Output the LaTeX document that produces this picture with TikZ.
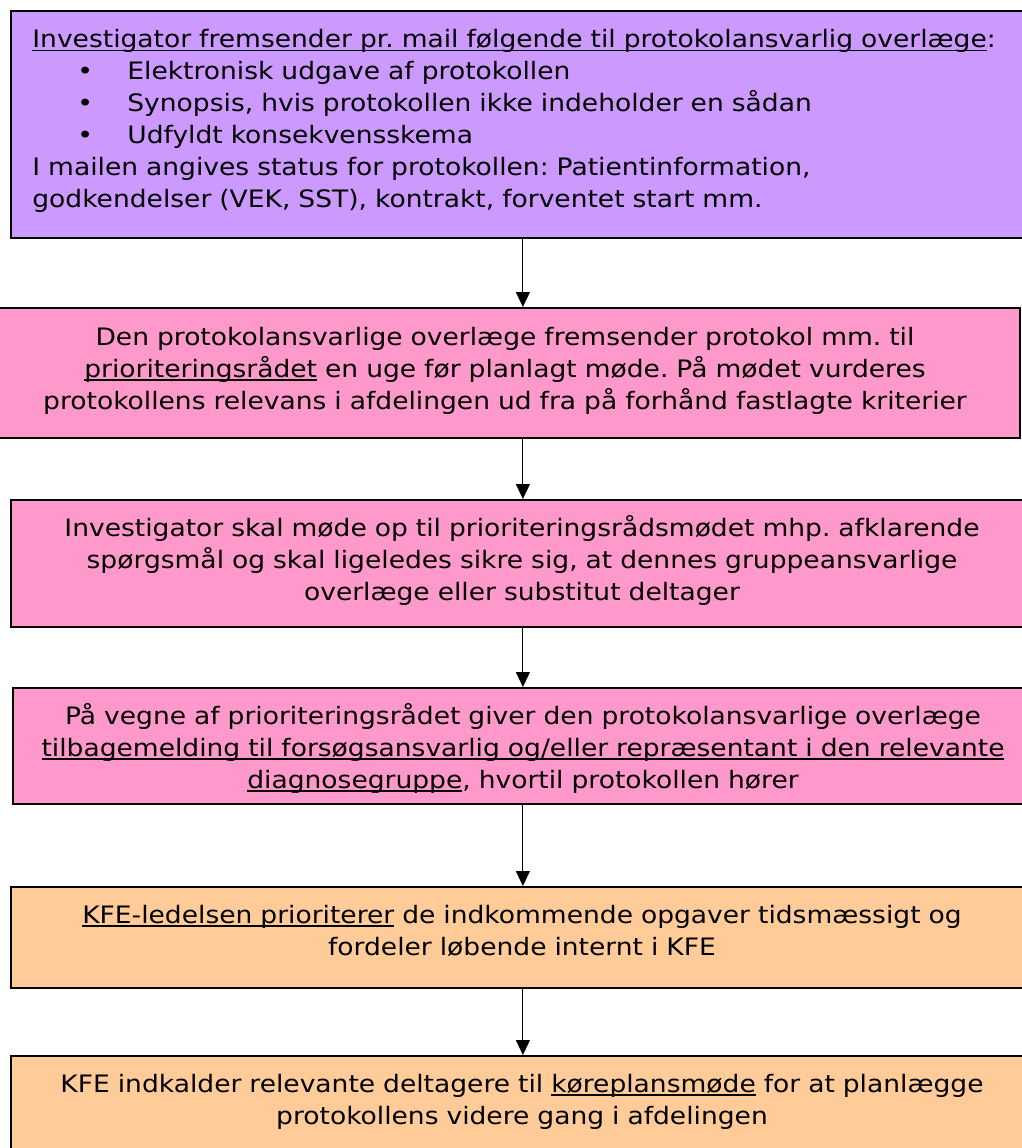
\documentclass[tikz,border=0pt]{standalone}
\usepackage{fontspec}
\setmainfont{DejaVu Sans}[FakeStretch=1.105]
\usetikzlibrary{arrows.meta}
\definecolor{lilla}{HTML}{CC99FF}
\definecolor{lyserod}{HTML}{FF99CC}
\definecolor{fersken}{HTML}{FFCC99}
\newcommand{\ustreg}[1]{\leavevmode\setbox0\hbox{#1}\rlap{\rule[-1.8pt]{\wd0}{0.7pt}}\box0\relax}
\frenchspacing
\begin{document}
\begin{tikzpicture}[
    x=0.5pt, y=-0.5pt,
    every node/.style={font=\fontsize{12pt}{16pt}\selectfont},
    boks/.style={draw,line width=0.9pt,inner sep=0pt,anchor=north west},
    tekst/.style={inner sep=0pt,text width=540pt,align=center,anchor=base},
    pil/.style={line width=0.5pt,-{Triangle[length=7.5pt,width=7pt]}}]
    \useasboundingbox (0,0) rectangle (1022,1148);
    \clip (0,0) rectangle (1022,1148);

    % Kasserne.
    \node[boks,fill=lilla,minimum width=512pt,minimum height=113.5pt] (b1) at (10,10) {};
    \node[boks,fill=lyserod,minimum width=514.5pt,minimum height=65pt] (b2) at (-10,307) {};
    \node[boks,fill=lyserod,minimum width=512pt,minimum height=63.5pt] (b3) at (10,499) {};
    \node[boks,fill=lyserod,minimum width=511pt,minimum height=58pt] (b4) at (12,687) {};
    \node[boks,fill=fersken,minimum width=512pt,minimum height=50.5pt] (b5) at (10,886) {};
    \node[boks,fill=fersken,minimum width=512pt,minimum height=55pt] (b6) at (10,1055) {};

    % Teksterne.
    \node[inner sep=0pt,text width=500pt,align=left,anchor=base west] (t1) at (32,47.3) {%
        \ustreg{Investigator fremsender pr. mail følgende til protokolansvarlig overlæge}:\\
        \hspace*{22.5pt}\makebox[25pt][l]{•}Elektronisk udgave af protokollen\\
        \hspace*{22.5pt}\makebox[25pt][l]{•}Synopsis, hvis protokollen ikke indeholder en sådan\\
        \hspace*{22.5pt}\makebox[25pt][l]{•}Udfyldt konsekvensskema\\
        I mailen angives status for protokollen: Patientinformation,\\
        godkendelser (VEK, SST), kontrakt, forventet start mm.};
    \node[tekst] (t2) at (505,345) {%
        Den protokolansvarlige overlæge fremsender protokol mm. til\\
        \ustreg{prioriteringsrådet} en uge før planlagt møde. På mødet vurderes\\
        protokollens relevans i afdelingen ud fra på forhånd fastlagte kriterier};
    \node[tekst] (t3) at (522,536) {%
        Investigator skal møde op til prioriteringsrådsmødet mhp. afklarende\\
        spørgsmål og skal ligeledes sikre sig, at dennes gruppeansvarlige\\
        overlæge eller substitut deltager};
    \node[tekst] (t4) at (523,724) {%
        På vegne af prioriteringsrådet giver den protokolansvarlige overlæge\\
        \ustreg{tilbagemelding til forsøgsansvarlig og/eller repræsentant i den relevante}\\
        \ustreg{diagnosegruppe}, hvortil protokollen hører};
    \node[tekst] (t5) at (522,923) {%
        \ustreg{KFE-ledelsen prioriterer} de indkommende opgaver tidsmæssigt og\\
        fordeler løbende internt i KFE};
    \node[tekst] (t6) at (522,1092) {%
        KFE indkalder relevante deltagere til \ustreg{køreplansmøde} for at planlægge\\
        protokollens videre gang i afdelingen};

    % Pilene.
    \draw[pil] (b1.south) -- (b1.south |- b2.north);
    \draw[pil] (b3.north |- b2.south) -- (b3.north);
    \draw[pil] (b3.south) -- (b3.south |- b4.north);
    \draw[pil] (b5.north |- b4.south) -- (b5.north);
    \draw[pil] (b5.south) -- (b6.north);
\end{tikzpicture}
\end{document}
